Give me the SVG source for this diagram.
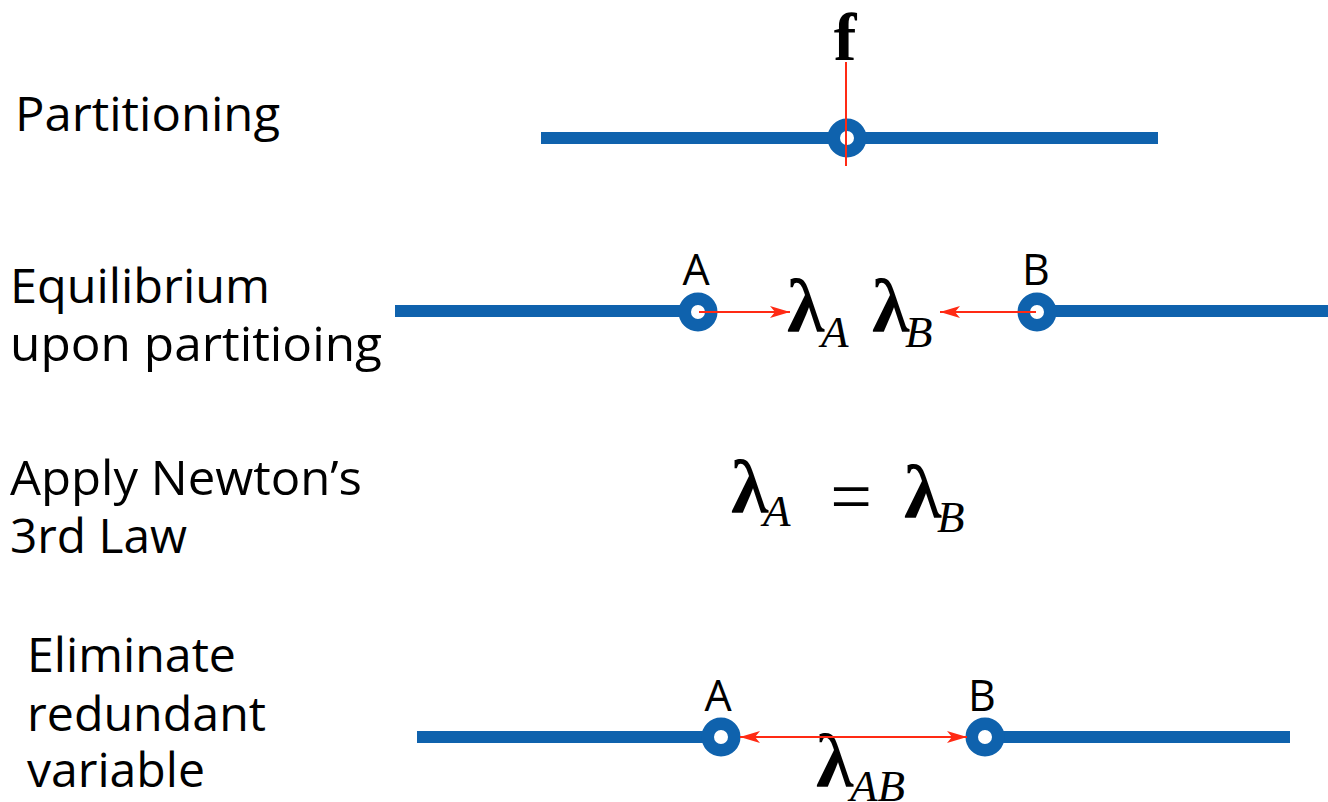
<svg xmlns="http://www.w3.org/2000/svg" width="1328" height="802" viewBox="0 0 1328 802">
<style>
.lbl{font-family:"Open Sans","Liberation Sans",sans-serif;font-size:47px;fill:#000}
.pt{font-family:"Open Sans","Liberation Sans",sans-serif;font-size:43px;fill:#000;text-anchor:middle}
.bar{stroke:#0f62ad;stroke-width:12;fill:none}
.node{fill:#fff;stroke:#0f62ad;stroke-width:12.5}
.lam{font-family:"Liberation Serif","DejaVu Serif",serif;font-weight:bold;font-size:76px;fill:#000}
.sub{font-family:"Liberation Serif","DejaVu Serif",serif;font-style:italic;font-size:45px;fill:#000}
.force{stroke:#ff2a14;stroke-width:2;fill:none}
</style>
<defs>
<marker id="ah" viewBox="0 0 20 12" refX="20" refY="6" markerWidth="20" markerHeight="12" markerUnits="userSpaceOnUse" orient="auto-start-reverse">
<path d="M0,0 L20,6 L0,12 L5,6 Z" fill="#ff2a14"/>
</marker>
</defs>
<g id="labels">
<text class="lbl" x="15" y="131" textLength="265" lengthAdjust="spacingAndGlyphs">Partitioning</text>
<text class="lbl" x="10" y="303" textLength="260" lengthAdjust="spacingAndGlyphs">Equilibrium</text>
<text class="lbl" x="10" y="361" textLength="372" lengthAdjust="spacingAndGlyphs">upon partitioing</text>
<text class="lbl" x="10" y="495" textLength="352" lengthAdjust="spacingAndGlyphs">Apply Newton’s</text>
<text class="lbl" x="10" y="553" textLength="177" lengthAdjust="spacingAndGlyphs">3rd Law</text>
<text class="lbl" x="27" y="672" textLength="209" lengthAdjust="spacingAndGlyphs">Eliminate</text>
<text class="lbl" x="27" y="731" textLength="239" lengthAdjust="spacingAndGlyphs">redundant</text>
<text class="lbl" x="27" y="787" textLength="178" lengthAdjust="spacingAndGlyphs">variable</text>
</g>
<g id="row1">
<line class="bar" x1="541" y1="138" x2="1158" y2="138"/>
<circle class="node" cx="847" cy="138" r="13.25"/>
<text x="845" y="60" text-anchor="middle" style="font-family:'Liberation Serif',serif;font-weight:bold;font-size:68px">f</text>
</g>
<g id="row2">
<line class="bar" x1="395" y1="311" x2="697" y2="311"/>
<line class="bar" x1="1037" y1="311" x2="1328" y2="311"/>
<g id="nodeA2"><circle class="node" cx="698" cy="312" r="13.25"/><text class="pt" x="696" y="285">A</text></g>
<g id="nodeB2"><circle class="node" cx="1037" cy="312" r="13.25"/><text class="pt" x="1036" y="285">B</text></g>
<text class="lam" x="787" y="332">λ</text><text class="sub" x="821" y="347">A</text>
<text class="lam" x="872" y="332">λ</text><text class="sub" x="905" y="347">B</text>
</g>
<g id="row3">
<text class="lam" x="731" y="513">λ</text><text class="sub" x="763" y="526">A</text>
<text x="851" y="521" text-anchor="middle" style="font-family:'Liberation Serif',serif;font-size:74px">=</text>
<text class="lam" x="904" y="518">λ</text><text class="sub" x="937" y="532">B</text>
</g>
<g id="row4">
<line class="bar" x1="417" y1="737" x2="720" y2="737"/>
<line class="bar" x1="985" y1="737" x2="1290" y2="737"/>
<g id="nodeA4"><circle class="node" cx="721" cy="737" r="13.25"/><text class="pt" x="718" y="711">A</text></g>
<g id="nodeB4"><circle class="node" cx="985" cy="737" r="13.25"/><text class="pt" x="982" y="711">B</text></g>
<text class="lam" x="816" y="787">λ</text><text class="sub" x="850" y="801">AB</text>
</g>
<g id="connectors">
<line class="force" x1="846" y1="62" x2="846" y2="166"/>
<line class="force" x1="699" y1="312" x2="790" y2="312" marker-end="url(#ah)"/>
<line class="force" x1="1036" y1="312" x2="940" y2="312" marker-end="url(#ah)"/>
<line class="force" x1="740" y1="737" x2="967" y2="737" marker-start="url(#ah)" marker-end="url(#ah)"/>
</g>
</svg>
